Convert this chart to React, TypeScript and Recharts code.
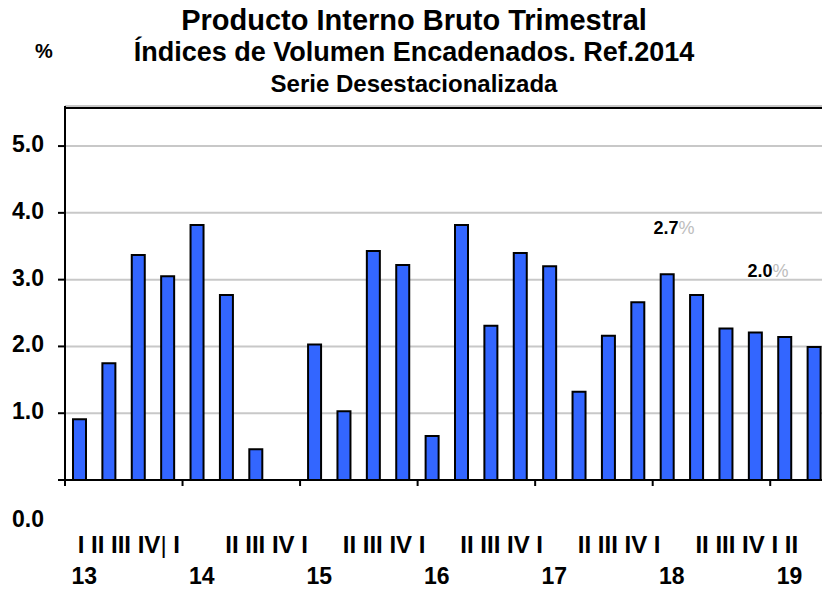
import React from 'react';
import { BarChart, Bar, XAxis, YAxis, CartesianGrid, ReferenceDot, ReferenceLine } from 'recharts';

const quarters = ['13 I','13 II','13 III','13 IV','14 I','14 II','14 III','14 IV','15 I','15 II','15 III','15 IV','16 I','16 II','16 III','16 IV','17 I','17 II','17 III','17 IV','18 I','18 II','18 III','18 IV','19 I','19 II'];
const growth: (number | null)[] = [0.91,1.75,3.37,3.05,3.82,2.77,0.46,null,2.03,1.03,3.43,3.22,0.66,3.82,2.31,3.40,3.20,1.32,2.16,2.66,3.08,2.77,2.27,2.21,2.14,1.99];
const years = ['13','14','15','16','17','18','19'];
const quarterGroups = ['I II III IV', 'II III IV I', 'II III IV I', 'II III IV I', 'II III IV I', 'II III IV I II', ''];
const yTicks = [0, 1, 2, 3, 4, 5];
const Y_MAX = 5.6;
const FRAME_TOP = 5.57;
const annotations = [
  { x: '18 I', y: 3.68, value: '2.7', dx: -14 },
  { x: '18 IV', y: 3.04, value: '2.0', dx: -8 },
];

const titleLines = [
  'Producto Interno Bruto Trimestral',
  'Índices de Volumen Encadenados. Ref.2014',
  'Serie Desestacionalizada',
];

const data = quarters.map((q, i) => ({ q, v: growth[i] }));

const FONT = '"Liberation Sans", Arial, Helvetica, sans-serif';
const CHART_W = 829;
const CHART_H = 589;
const Y_AXIS_W = 65;
const BAND = (CHART_W - Y_AXIS_W) / quarters.length;

const XTick = (props: any) => {
  const { x, y, index } = props;
  if (index % 4 !== 0) return null;
  const k = index / 4;
  const bx = x - BAND / 2;
  const groupX = k === 0 ? x - 2 : x + 28;
  return (
    <g>
      <line x1={bx} y1={y} x2={bx} y2={y + 6} stroke="#000" strokeWidth={2} />
      {quarterGroups[k] ? (
        <text x={groupX} y={553} fontFamily={FONT} fontWeight="bold" fontSize={24} fill="#000" textAnchor="start">
          {k === 0 ? (
            <>
              <tspan>{quarterGroups[k]}</tspan>
              <tspan fontWeight="normal">|</tspan>
              <tspan> I</tspan>
            </>
          ) : (
            quarterGroups[k]
          )}
        </text>
      ) : null}
      <text x={x + 4.5} y={584} fontFamily={FONT} fontWeight="bold" fontSize={23} fill="#000" textAnchor="middle">
        {years[k]}
      </text>
    </g>
  );
};

const YTick = (props: any) => {
  const { x, y, payload } = props;
  const v = payload.value as number;
  const ty = v === 0 ? y + 47 : y + 6;
  return (
    <text x={x} y={ty} fontFamily={FONT} fontWeight="bold" fontSize={23} fill="#000" textAnchor="end">
      {v.toFixed(1)}
    </text>
  );
};

const makeAnno = (a: { value: string; dx: number }) => (p: any) => (
  <text x={p.cx + a.dx} y={p.cy} fontFamily={FONT} fontSize={18} textAnchor="start">
    <tspan fontWeight="bold" fill="#000">{a.value}</tspan>
    <tspan fill="#bdbdbd">%</tspan>
  </text>
);

export default function App() {
  return (
    <div style={{ position: 'absolute', left: 0, top: 0, width: 822, height: 589, overflow: 'hidden', background: '#fff' }}>
      <div style={{ position: 'absolute', left: 0, top: 0 }}>
        <BarChart width={CHART_W} height={CHART_H} data={data} margin={{ top: 106, right: 0, bottom: 0, left: 0 }} barCategoryGap={0}>
          <CartesianGrid vertical={false} stroke="#c8c8c8" strokeWidth={2} />
          <XAxis
            dataKey="q"
            height={109}
            interval={0}
            tickLine={false}
            tickSize={0}
            tickMargin={0}
            axisLine={{ stroke: '#000', strokeWidth: 2 }}
            tick={<XTick />}
          />
          <YAxis
            width={Y_AXIS_W}
            domain={[0, Y_MAX]}
            ticks={yTicks}
            tickSize={7}
            tickMargin={14}
            tickLine={{ stroke: '#000', strokeWidth: 2 }}
            axisLine={{ stroke: '#000', strokeWidth: 2 }}
            tick={<YTick />}
            allowDataOverflow
          />
          <ReferenceLine y={FRAME_TOP} stroke="#000" strokeWidth={2} ifOverflow="visible" />
          <Bar dataKey="v" fill="#3366ff" stroke="#000" strokeWidth={2} barSize={13} isAnimationActive={false} />
          {annotations.map((a) => (
            <ReferenceDot key={a.value} x={a.x} y={a.y} r={1} shape={makeAnno(a)} ifOverflow="visible" />
          ))}
        </BarChart>
      </div>
      <svg width={822} height={100} style={{ position: 'absolute', left: 0, top: 0, pointerEvents: 'none' }}>
        <text x={35} y={58} fontFamily={FONT} fontWeight="bold" fontSize={20} fill="#000">%</text>
        <text x={414} y={30} fontFamily={FONT} fontWeight="bold" fontSize={29} fill="#000" textAnchor="middle">{titleLines[0]}</text>
        <text x={414} y={61} fontFamily={FONT} fontWeight="bold" fontSize={27} fill="#000" textAnchor="middle">{titleLines[1]}</text>
        <text x={414} y={92} fontFamily={FONT} fontWeight="bold" fontSize={24} fill="#000" textAnchor="middle">{titleLines[2]}</text>
      </svg>
    </div>
  );
}
